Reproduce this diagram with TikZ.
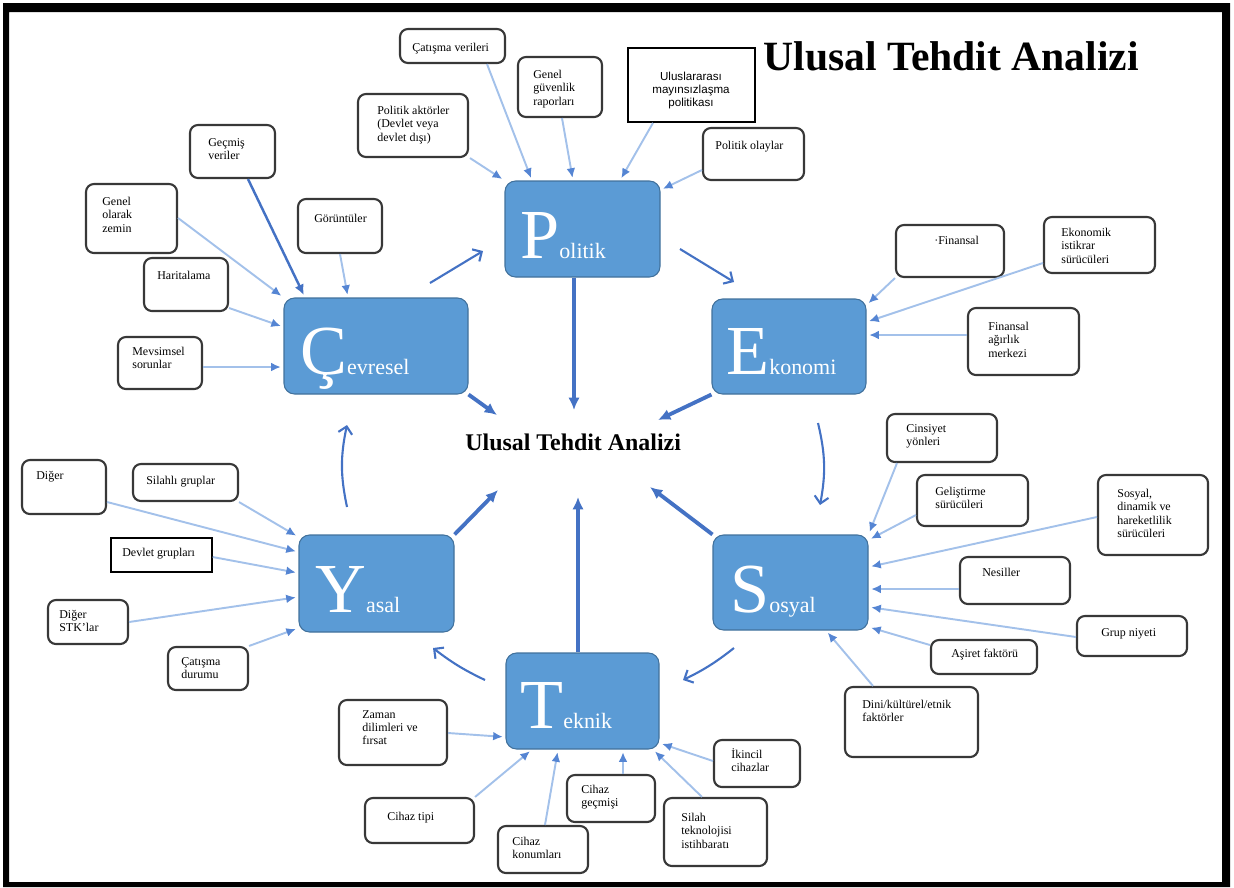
\documentclass[tikz,border=0pt]{standalone}
\usepackage{fontspec}
\setmainfont{Liberation Serif}
\newfontfamily\arialfont{Liberation Sans}
\usepackage{tikz}
\usetikzlibrary{positioning,fit,arrows.meta,calc}
\definecolor{mainblue}{HTML}{5B9BD5}
\definecolor{mainedge}{HTML}{41719C}
\definecolor{darkarrow}{HTML}{4472C4}
\definecolor{lightline}{HTML}{A3C1EA}
\definecolor{lighthead}{HTML}{5585D3}
\tikzset{
    mainbox/.style={
        rectangle,
        rounded corners=6pt,
        fill=mainblue,
        draw=mainedge,
        line width=0.6pt,
        inner sep=0pt
    },
    maintext/.style={text=white, inner sep=0pt, anchor=base west},
    smallbox/.style={
        rectangle,
        rounded corners=4.5pt,
        draw=black!78,
        fill=white,
        line width=1.2pt,
        inner sep=0pt
    },
    flatbox/.style={rectangle, draw=black, fill=white, line width=0.8pt, inner sep=0pt},
    boxtext/.style={inner sep=0pt, anchor=north west, align=left, font=\fontsize{6.8}{7.5}\selectfont},
    thin arrow/.style={draw=lightline, line width=1.1pt, shorten >=1.5pt,
        -{Latex[length=5.5pt,width=5pt,color=lighthead]}},
    dark arrow/.style={draw=darkarrow, line width=1.4pt, shorten >=1.5pt, -{Latex[length=6pt,width=5.5pt]}},
    cycle arrow/.style={draw=darkarrow, line width=1.2pt, -{Straight Barb[length=4pt,width=8pt]}},
    thick arrow/.style={draw=darkarrow, line width=2.2pt, -{Latex[length=7pt,width=6.5pt]}}
}

\begin{document}
\begin{tikzpicture}[x=0.02cm, y=-0.02cm]
    \useasboundingbox (0,0) rectangle (1234,887);
    % siyah cerceve
    \fill[black, even odd rule] (3,3) rectangle (1230,887) (9,12) rectangle (1222,882);

    % basliklar
    \node[anchor=base west, inner sep=0pt, font=\bfseries\fontsize{23.7}{23.7}\selectfont] (title) at (763,70) {Ulusal Tehdit Analizi};
    \node[anchor=base west, inner sep=0pt, font=\bfseries\fontsize{13.6}{13.6}\selectfont] (center) at (465,450) {Ulusal Tehdit Analizi};

    % ana kutular (buyuk ilk harf + kalan)
    \foreach \nm/\xa/\ya/\xb/\yb/\tx/\ty/\lt/\rs in {
        pol/505/181/660/277/520/258/P/olitik,
        cev/284/298/468/394/300/374/Ç/evresel,
        eko/712/299/866/394/726/374/E/konomi,
        yas/299/535/454/632/315/612/Y/asal,
        sos/713/535/868/630/730/612/S/osyal,
        tek/506/653/659/749/520/728/T/eknik}
    {
        \node[mainbox, fit={(\xa,\ya) (\xb,\yb)}] (\nm) {};
        \node[maintext] (\nm-t) at (\tx,\ty) {\fontsize{40}{40}\selectfont\lt\fontsize{12.5}{12.5}\selectfont\rs};
    }

    % kucuk kutular
    \foreach \nm/\xa/\ya/\xb/\yb/\tx/\ty/\txt in {
        pak/358/94/468/157/377/106/{Politik aktörler\\(Devlet veya\\devlet dışı)},
        cv/400/29/505/63/412/43/{Çatışma verileri},
        ggr/518/57/602/117/533/70/{Genel\\güvenlik\\raporları},
        pola/703/128/804/180/715/141/{Politik olaylar},
        gec/190/125/275/178/208/138/{Geçmiş\\veriler},
        gz/86/184/177/253/102/197/{Genel\\olarak\\zemin},
        gor/298/199/382/253/314/214/{Görüntüler},
        har/144/258/228/311/157/271/{Haritalama},
        mev/118/337/202/389/132/347/{Mevsimsel\\sorunlar},
        fin/896/225/1004/277/934/236/{·Finansal},
        eis/1044/217/1155/273/1061/228/{Ekonomik\\istikrar\\sürücüleri},
        fam/968/308/1079/375/988/322/{Finansal\\ağırlık\\merkezi},
        cin/887/414/997/462/906/424/{Cinsiyet\\yönleri},
        gel/917/475/1028/526/935/487/{Geliştirme\\sürücüleri},
        sdh/1098/475/1208/555/1117/489/{Sosyal,\\dinamik ve\\hareketlilik\\sürücüleri},
        nes/960/557/1070/604/982/568/{Nesiller},
        gru/1077/616/1187/656/1101/628/{Grup niyeti},
        asi/931/640/1037/674/951/649/{Aşiret faktörü},
        dkf/845/687/978/757/862/700/{Dini/kültürel/etnik\\faktörler},
        dig/22/460/106/514/36/471/{Diğer},
        sil/133/464/238/501/146/476/{Silahlı gruplar},
        stk/48/600/128/644/59/610/{Diğer\\STK'lar},
        cd/168/647/248/690/181/657/{Çatışma\\durumu},
        zam/339/700/447/765/362/710/{Zaman\\dilimleri ve\\fırsat},
        cti/365/798/474/843/387/812/{Cihaz tipi},
        ckn/498/826/588/873/512/837/{Cihaz\\konumları},
        cgc/567/775/655/822/581/785/{Cihaz\\geçmişi},
        sti/664/798/767/866/681/813/{Silah\\teknolojisi\\istihbaratı},
        iki/714/740/800/787/731/748/{İkincil\\cihazlar}}
    {
        \node[smallbox, fit={(\xa,\ya) (\xb,\yb)}] (\nm) {};
        \node[boxtext] (\nm-t) at (\tx,\ty) {\txt};
    }
    % koseli kutular
    \node[flatbox, line width=1pt, fit={(628,48) (755,122)}] (ump) {};
    \node[align=center, inner sep=0pt, font=\arialfont\fontsize{6.6}{7.4}\selectfont] (ump-t) at (691,90) {Uluslararası\\mayınsızlaşma\\politikası};
    \node[flatbox, fit={(111,538) (212,572)}] (dgr) {};
    \node[boxtext] (dgr-t) at (122,548) {Devlet grupları};

    % Politik oklari
    \draw[thin arrow] (pak.south -| 470,0) -- (pol.north west);
    \draw[thin arrow] (cv.south -| 487,0) -- (pol.north -| 532,0);
    \draw[thin arrow] (ggr.south -| 562,0) -- (pol.north -| 573,0);
    \draw[thin arrow] (ump.south -| 653,0) -- (pol.north -| 620,0);
    \draw[thin arrow] (pola.west |- 0,170) -- (pol.east |- 0,190);
    % Cevresel oklari
    \draw[dark arrow] (gec.south -| 248,0) -- (cev.north -| 305,0);
    \draw[thin arrow] (gz.east |- 0,218) -- (cev.north west);
    \draw[thin arrow] (gor.south -| 340,0) -- (cev.north -| 348,0);
    \draw[thin arrow] (har.east |- 0,308) -- (cev.west |- 0,327);
    \draw[thin arrow] (mev.east |- 0,367) -- (cev.west |- 0,367);
    % Ekonomi oklari
    \draw[thin arrow] (fin.south west) -- (eko.east |- 0,305);
    \draw[thin arrow] (eis.west |- 0,263) -- (eko.east |- 0,322);
    \draw[thin arrow] (fam.west |- 0,335) -- (eko.east |- 0,335);
    % Sosyal oklari
    \draw[thin arrow] (cin.south -| 897,0) -- (sos.north east);
    \draw[thin arrow] (gel.west |- 0,515) -- (sos.east |- 0,540);
    \draw[thin arrow] (sdh.west |- 0,517) -- (sos.east |- 0,567);
    \draw[thin arrow] (nes.west |- 0,589) -- (sos.east |- 0,589);
    \draw[thin arrow] (gru.west |- 0,637) -- (sos.east |- 0,607);
    \draw[thin arrow] (asi.west |- 0,645) -- (sos.east |- 0,627);
    \draw[thin arrow] (dkf.north -| 873,0) -- (sos.south -| 826,0);
    % Yasal oklari
    \draw[thin arrow] (dig.east |- 0,502) -- (yas.west |- 0,552);
    \draw[thin arrow] (sil.south east) -- (yas.west |- 0,537);
    \draw[thin arrow] (dgr.east |- 0,557) -- (yas.west |- 0,573);
    \draw[thin arrow] (stk.east |- 0,622) -- (yas.west |- 0,597);
    \draw[thin arrow] (cd.north east) -- (yas.west |- 0,628);
    % Teknik oklari
    \draw[thin arrow] (zam.east |- 0,733) -- (tek.west |- 0,737);
    \draw[thin arrow] (cti.north east) -- (tek.south -| 532,0);
    \draw[thin arrow] (ckn.north -| 545,0) -- (tek.south -| 558,0);
    \draw[thin arrow] (cgc.north -| 623,0) -- (tek.south -| 623,0);
    \draw[thin arrow] (sti.north -| 702,0) -- (tek.south -| 653,0);
    \draw[thin arrow] (iki.west |- 0,761) -- (tek.east |- 0,743);

    % dongu oklari
    \coordinate (c1) at (430,283); \coordinate (c2) at (483,251);
    \coordinate (c3) at (680,249); \coordinate (c4) at (734,282);
    \coordinate (c5) at (818,423); \coordinate (c6) at (820,505);
    \coordinate (c7) at (734,648); \coordinate (c8) at (683,680);
    \coordinate (c9) at (485,680); \coordinate (c10) at (433,648);
    \coordinate (c11) at (347,507); \coordinate (c12) at (347,425);
    \draw[cycle arrow] (c1) -- (c2);
    \draw[cycle arrow] (c3) -- (c4);
    \draw[cycle arrow] (c5) to[bend left=12] (c6);
    \draw[cycle arrow] (c7) to[bend left=6] (c8);
    \draw[cycle arrow] (c9) to[bend left=6] (c10);
    \draw[cycle arrow] (c11) to[bend left=12] (c12);

    % merkeze kalin oklar
    \coordinate (t1) at (497,415); \coordinate (t2) at (574,410);
    \coordinate (t3) at (658,420); \coordinate (t4) at (498,490);
    \coordinate (t5) at (578,497); \coordinate (t6) at (650,487);
    \draw[thick arrow] (cev.south east) -- (t1);
    \draw[thick arrow] (pol.south -| 574,0) -- (t2);
    \draw[thick arrow] (eko.south west) -- (t3);
    \draw[thick arrow] (yas.north east) -- (t4);
    \draw[thick arrow] (tek.north -| 578,0) -- (t5);
    \draw[thick arrow] (sos.north west) -- (t6);
\end{tikzpicture}
\end{document}
